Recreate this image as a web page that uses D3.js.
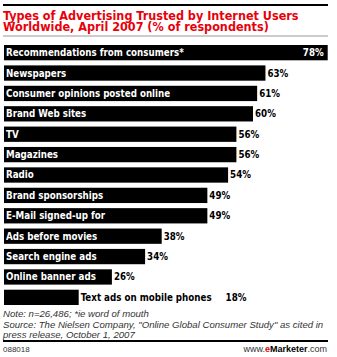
<!DOCTYPE html>
<html><head><meta charset="utf-8">
<script src="https://cdn.jsdelivr.net/npm/d3@7"></script>
<style>body{margin:0;background:#fff}</style>
</head><body>
<script>
const categories = ["Recommendations from consumers*","Newspapers","Consumer opinions posted online","Brand Web sites","TV","Magazines","Radio","Brand sponsorships","E-Mail signed-up for","Ads before movies","Search engine ads","Online banner ads","Text ads on mobile phones"];
const values = [78,63,61,60,56,56,54,49,49,38,34,26,18];
const titleLines = ["Types of Advertising Trusted by Internet Users","Worldwide, April 2007 (% of respondents)"];
const noteLines = ["Note: n=26,486; *ie word of mouth","Source: The Nielsen Company, \"Online Global Consumer Study\" as cited in","press release, October 1, 2007"];
const chartId = "088018";

const W = 337, H = 357;
const svg = d3.select("body").append("svg").attr("width", W).attr("height", H);

svg.append("rect").attr("x",3).attr("y",4).attr("width",325).attr("height",2).attr("fill","#000");
svg.selectAll("text.title").data(titleLines).enter().append("text")
  .attr("x",3).attr("y",(d,i)=>20+i*11)
  .attr("font-family","DejaVu Sans Condensed").attr("font-stretch","condensed").attr("font-weight","bold").attr("font-size",12.5)
  .attr("fill","#e8000b").text(d=>d);
svg.append("rect").attr("x",3).attr("y",35.5).attr("width",325).attr("height",1).attr("fill","#999");

const x = d3.scaleLinear().domain([0,100]).range([4,419]);
const y = d3.scaleBand().domain(categories).range([45,305]).paddingInner(0.25).paddingOuter(0);

const g = svg.append("g");
g.selectAll("rect.bar").data(categories).enter().append("rect")
  .attr("x",x(0)).attr("y",d=>y(d)).attr("width",(d,i)=>x(values[i])-x(0)).attr("height",y.bandwidth())
  .attr("fill","#000");

const font = "DejaVu Sans Condensed";
const fs = 9.7;
categories.forEach((c,i)=>{
  const w = x(values[i]) - x(0);
  const lab = g.append("text").attr("font-family",font).attr("font-stretch","condensed").attr("font-weight","bold").attr("font-size",fs)
    .attr("y",y(c)+y.bandwidth()/2).attr("dy","0.36em").text(c);
  const lw = lab.node().getComputedTextLength();
  const inside = lw + 6 < w;
  if (inside) lab.attr("x",6).attr("fill","#fff");
  else lab.attr("x",x(values[i])+2).attr("fill","#000");
  const val = g.append("text").attr("font-family",font).attr("font-stretch","condensed").attr("font-weight","bold").attr("font-size",fs)
    .attr("y",y(c)+y.bandwidth()/2).attr("dy","0.36em").text(values[i]+"%");
  if (i===0) val.attr("x",x(values[i])-4).attr("text-anchor","end").attr("fill","#fff");
  else if (inside) val.attr("x",x(values[i])+2).attr("fill","#000");
  else val.attr("x",x(values[i])+2+lw+14).attr("fill","#000");
});

svg.selectAll("text.note").data(noteLines).enter().append("text")
  .attr("x",3).attr("y",(d,i)=>317+i*10.5)
  .attr("font-family","Liberation Sans").attr("font-style","italic").attr("font-size",9.6)
  .attr("fill","#333").text(d=>d);
svg.append("rect").attr("x",3).attr("y",340).attr("width",325).attr("height",2).attr("fill","#000");
svg.append("text").attr("x",3).attr("y",352).attr("font-family","Liberation Sans").attr("font-size",8).attr("fill","#333").text(chartId);
const em = svg.append("text").attr("x",327).attr("y",352).attr("text-anchor","end")
  .attr("font-family","Liberation Sans").attr("font-size",9).attr("fill","#333");
em.append("tspan").text("www.");
em.append("tspan").attr("fill","#e8000b").attr("font-weight","bold").text("e");
em.append("tspan").attr("font-weight","bold").attr("fill","#000").text("Marketer");
em.append("tspan").text(".com");
</script>
</body></html>
